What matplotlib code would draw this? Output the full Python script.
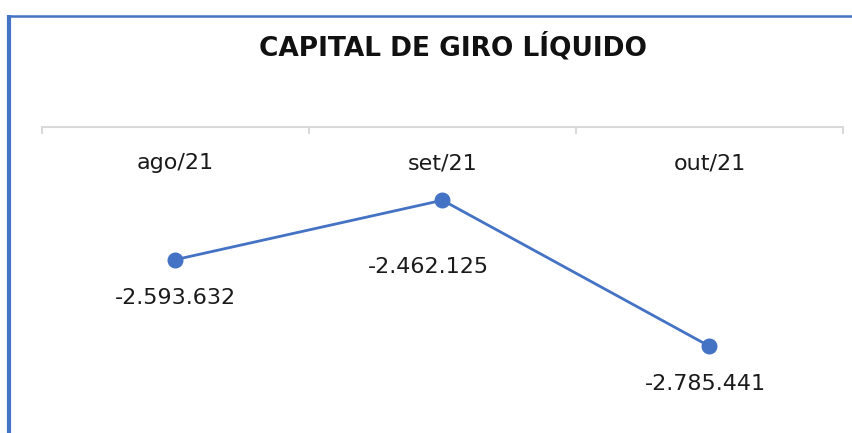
import matplotlib
matplotlib.use("Agg")
import matplotlib.pyplot as plt
from matplotlib.lines import Line2D
import matplotlib.transforms as mtransforms

meses = ["ago/21", "set/21", "out/21"]
valores = [-2593632, -2462125, -2785441]

W, H = 853, 433
plt.rcParams['font.family'] = ['DejaVu Sans']

fig = plt.figure(figsize=(W / 100, H / 100), dpi=100)
fig.patch.set_facecolor('white')

# plot area (pixel coords from the reference)
left, right, top, bottom = 42, 843, 127, 398
ax = fig.add_axes([left / W, 1 - bottom / H, (right - left) / W, (bottom - top) / H])
ax.set_xlim(-0.5, 2.5)
ax.set_ylim(-2900000, -2300000)

x = list(range(len(meses)))
ax.plot(x, valores, color='#4472C4', lw=2, marker='o', ms=10.5, zorder=3)

# label offsets in points (the middle one was nudged down/left in the original)
offs = [(0, -27.5), (-10, -48), (-3, -27.5)]
for xi, v, o in zip(x, valores, offs):
    txt = f"{v:,}".replace(",", ".")
    ax.annotate(txt, (xi, v), xytext=o, textcoords='offset points',
                ha='center', va='center', fontsize=16, color='#1a1a1a')

# category labels under the axis line (axis sits at the top)
trans = mtransforms.blended_transform_factory(ax.transData, ax.transAxes)
for xi, m in zip(x, meses):
    ax.text(xi, 1 - (163 - top) / (bottom - top), m, transform=trans,
            ha='center', va='center', fontsize=16, color='#1a1a1a')

for s in ['left', 'right', 'bottom']:
    ax.spines[s].set_visible(False)
ax.spines['top'].set_color('#D9D9D9')
ax.spines['top'].set_linewidth(1.5)
ax.set_yticks([])
ax.xaxis.set_ticks_position('top')
ax.set_xticks([-0.5, 0.5, 1.5, 2.5])
ax.set_xticklabels([])
ax.tick_params(axis='x', direction='in', length=5, width=1.5, color='#D9D9D9')
ax.patch.set_alpha(0)

fig.text(453 / W, 1 - 47 / H, "CAPITAL DE GIRO LÍQUIDO", ha='center', va='center',
         fontsize=19, fontweight='bold', color='#111111')

# blue frame (left and top edges)
fig.add_artist(Line2D([9 / W, 9 / W], [0, 1 - 15 / H], color='#4472C4', lw=3,
                      transform=fig.transFigure, solid_capstyle='butt'))
fig.add_artist(Line2D([7 / W, 1], [1 - 16 / H, 1 - 16 / H], color='#4472C4', lw=1.8,
                      transform=fig.transFigure, solid_capstyle='butt'))

fig.savefig("out.png", dpi=100, facecolor='white')
